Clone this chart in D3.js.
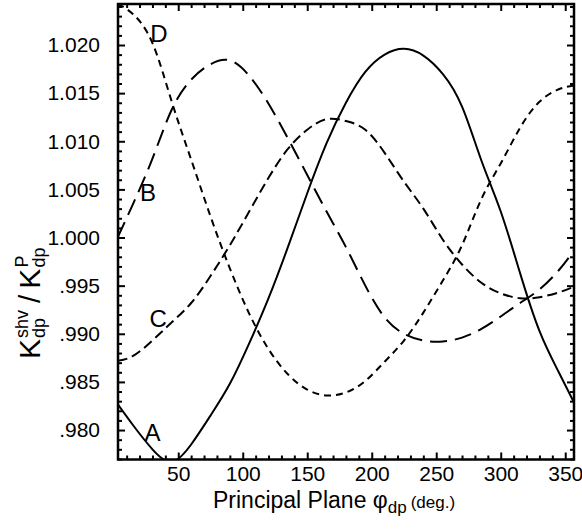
<!DOCTYPE html>
<html><head><meta charset="utf-8">
<script src="https://cdn.jsdelivr.net/npm/d3@7"></script>
<style>body{margin:0;background:#fff} svg{display:block}</style>
</head><body>
<svg id="chart" width="582" height="529"></svg>
<script>
// ---- data ----
const angles  = [3, 15, 30, 45, 60, 75, 90, 105, 120, 135, 150, 165, 180, 195, 210, 225, 240, 255, 270, 285, 300, 315, 330, 345, 357];
const seriesA = [0.9827, 0.9805, 0.9780, 0.9767, 0.9785, 0.9815, 0.9848, 0.9890, 0.9937, 0.9990, 1.0046, 1.0098, 1.0140, 1.0172, 1.0190, 1.0196, 1.0189, 1.0170, 1.0136, 1.0080, 1.0027, 0.9963, 0.9903, 0.9860, 0.9828];
const seriesB = [1.0000, 1.0035, 1.0082, 1.0133, 1.0164, 1.0180, 1.0184, 1.0168, 1.0139, 1.0103, 1.0065, 1.0027, 0.9990, 0.9950, 0.9917, 0.9900, 0.9893, 0.9892, 0.9896, 0.9905, 0.9918, 0.9932, 0.9946, 0.9966, 0.9987];
const seriesC = [0.9872, 0.9877, 0.9893, 0.9912, 0.9932, 0.9960, 0.9992, 1.0027, 1.0062, 1.0092, 1.0112, 1.0123, 1.0121, 1.0112, 1.0088, 1.0058, 1.0030, 0.9998, 0.9972, 0.9953, 0.9942, 0.9937, 0.9938, 0.9943, 0.9949];
const seriesD = [1.0243, 1.0232, 1.0202, 1.0141, 1.0081, 1.0022, 0.9968, 0.9921, 0.9884, 0.9858, 0.9842, 0.9836, 0.9839, 0.9851, 0.9871, 0.9893, 0.9922, 0.9955, 0.9992, 1.0040, 1.0077, 1.0114, 1.0141, 1.0154, 1.0158];
const seriesNames = ["A", "B", "C", "D"];
const xMajorTicks = [50, 100, 150, 200, 250, 300, 350];
const yMajorTicks = [0.980, 0.985, 0.990, 0.995, 1.000, 1.005, 1.010, 1.015, 1.020];
const yTickLabels = [".980", ".985", ".990", ".995", "1.000", "1.005", "1.010", "1.015", "1.020"];

// ---- layout ----
const L = 118, R = 574, T = 4, B = 459.5;
const svg = d3.select("#chart");
const x = d3.scaleLinear().domain([3.3, 356.8]).range([L, R]);
const y = d3.scaleLinear().domain([0.97694, 1.02426]).range([B, T]);
const FONT = "'Liberation Sans', Arial, Helvetica, sans-serif";

svg.append("defs").append("clipPath").attr("id", "clip")
  .append("rect").attr("x", L).attr("y", T).attr("width", R - L).attr("height", B - T);

// ---- curves ----
const styles = {A: null, B: "17,8", C: "10,5", D: "7,5"};
const allSeries = {A: seriesA, B: seriesB, C: seriesC, D: seriesD};
const line = d3.line().x(d => x(d[0])).y(d => y(d[1])).curve(d3.curveNatural);
const plot = svg.append("g").attr("clip-path", "url(#clip)");
seriesNames.forEach(n => {
  plot.append("path")
    .datum(angles.map((a, i) => [a, allSeries[n][i]]))
    .attr("d", line).attr("fill", "none").attr("stroke", "#000")
    .attr("stroke-width", 2).attr("stroke-dasharray", styles[n]);
});

// ---- axes (inward ticks on all four sides) ----
const xMinor = d3.range(10, 360, 10).filter(v => v % 50 !== 0);
const yMinor = d3.range(977, 1025, 1).map(v => v / 1000).filter(v => Math.round(v * 1000) % 5 !== 0);
function styleAxis(g) {
  g.select(".domain").remove();
  g.selectAll("line").attr("stroke", "#000").attr("stroke-width", 2);
  g.selectAll("text").attr("font-family", FONT).attr("font-size", 21).attr("fill", "#000");
}
svg.append("g").attr("transform", `translate(0,${B})`)
  .call(d3.axisBottom(x).tickValues(xMajorTicks).tickSize(-7).tickPadding(7).tickFormat(d3.format("d"))).call(styleAxis);
svg.append("g").attr("transform", `translate(0,${B})`)
  .call(d3.axisBottom(x).tickValues(xMinor).tickSize(-4).tickFormat("")).call(styleAxis);
svg.append("g").attr("transform", `translate(0,${T})`)
  .call(d3.axisTop(x).tickValues(xMajorTicks).tickSize(-7).tickFormat("")).call(styleAxis);
svg.append("g").attr("transform", `translate(0,${T})`)
  .call(d3.axisTop(x).tickValues(xMinor).tickSize(-4).tickFormat("")).call(styleAxis);
svg.append("g").attr("transform", `translate(${L},0)`)
  .call(d3.axisLeft(y).tickValues(yMajorTicks).tickSize(-7).tickPadding(18).tickFormat((d, i) => yTickLabels[i])).call(styleAxis);
svg.append("g").attr("transform", `translate(${L},0)`)
  .call(d3.axisLeft(y).tickValues(yMinor).tickSize(-4).tickFormat("")).call(styleAxis);
svg.append("g").attr("transform", `translate(${R},0)`)
  .call(d3.axisRight(y).tickValues(yMajorTicks).tickSize(-7).tickFormat("")).call(styleAxis);
svg.append("g").attr("transform", `translate(${R},0)`)
  .call(d3.axisRight(y).tickValues(yMinor).tickSize(-4).tickFormat("")).call(styleAxis);

svg.append("rect").attr("x", L).attr("y", T).attr("width", R - L).attr("height", B - T)
  .attr("fill", "none").attr("stroke", "#000").attr("stroke-width", 2.5);

// ---- curve labels ----
const labelPos = {A: [30, 0.97972], B: [26.6, 1.00473], C: [34.4, 0.99164], D: [35.1, 1.02125]};
seriesNames.forEach(n => {
  svg.append("text").attr("x", x(labelPos[n][0])).attr("y", y(labelPos[n][1]))
    .attr("text-anchor", "middle").attr("dy", "0.36em")
    .attr("font-family", FONT).attr("font-size", 24).text(n);
});

// ---- x title ----
const xt = svg.append("text").attr("x", 213).attr("y", 508).attr("font-family", FONT).attr("fill", "#000");
xt.append("tspan").attr("font-size", 23).text("Principal Plane ");
xt.append("tspan").attr("font-size", 23).text("φ");
xt.append("tspan").attr("font-size", 17).attr("dy", 5).text("dp");
xt.append("tspan").attr("font-size", 17).attr("dy", -5).attr("dx", 4).text("(deg.)");

// ---- y title (rotated, stacked super/subscripts) ----
const yt = svg.append("g").attr("transform", "translate(40,359) rotate(-90)");
let cx = 0;
function piece(txt, size, dy) {
  const t = yt.append("text").attr("x", cx).attr("y", dy).attr("font-family", FONT)
    .attr("font-size", size).attr("fill", "#000").text(txt);
  return t.node().getComputedTextLength();
}
function stack(sup, sub) {
  const w1 = piece(sup, 18, -12), w2 = piece(sub, 18, 5);
  cx += Math.max(w1, w2) + 1;
}
cx += piece("K", 30, 0) + 1;
stack("shv", "dp");
cx += 6; cx += piece("/", 30, 0) + 6;
cx += piece("K", 30, 0) + 1;
stack("P", "dp");
</script>
</body></html>
